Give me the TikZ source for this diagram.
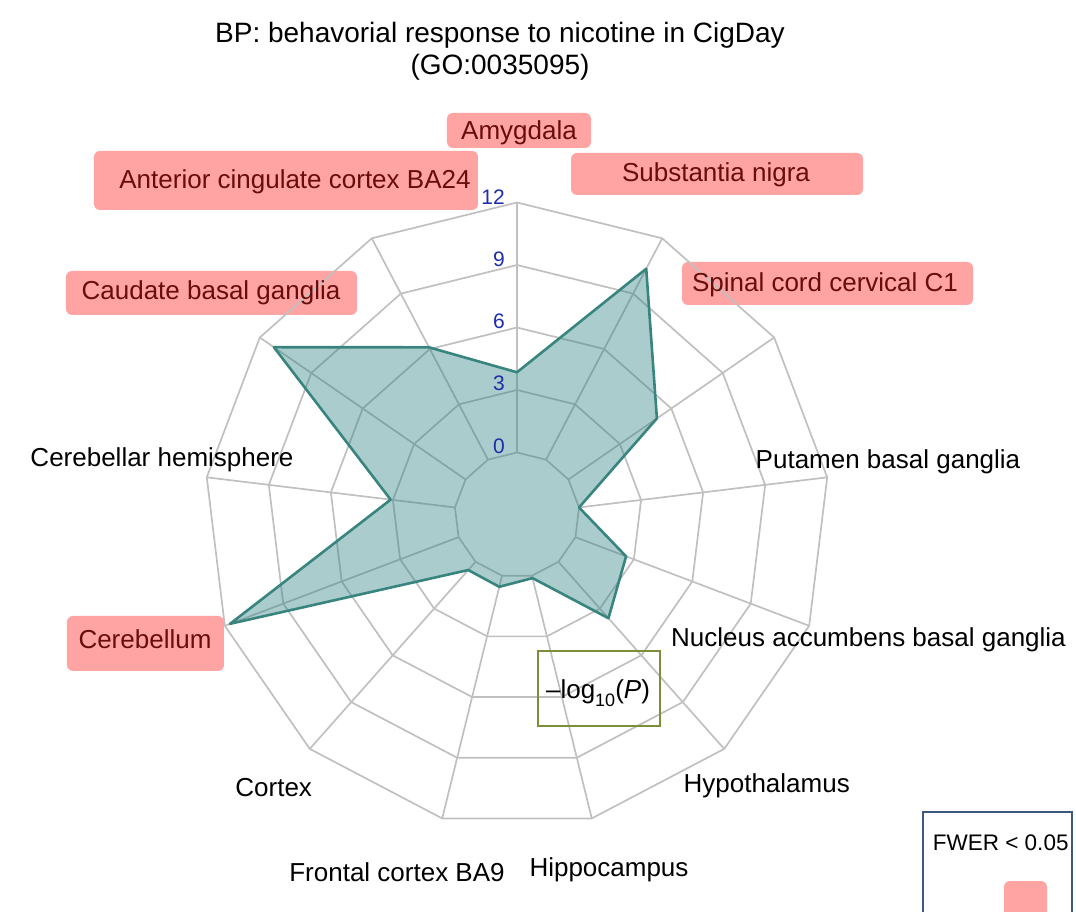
\documentclass[tikz,border=0pt]{standalone}
\usepackage{fontspec}
\setmainfont{Liberation Sans}

\definecolor{gridgray}{RGB}{192,192,192}
\definecolor{radarline}{RGB}{56,132,126}
\definecolor{radarfill}{RGB}{42,128,128}
\definecolor{tissuepink}{RGB}{255,163,163}
\definecolor{tissuered}{RGB}{105,12,12}
\definecolor{levelblue}{RGB}{30,45,170}
\definecolor{logolive}{RGB}{122,142,60}
\definecolor{legendblue}{RGB}{60,88,125}

\tikzset{
  gridline/.style={draw=gridgray, line width=1.7pt, line join=round},
  radar/.style={draw=radarline, line width=2.6pt, line join=round, fill=radarfill, fill opacity=0.4},
  tissuebox/.style={shape=rectangle, fill=tissuepink, rounded corners=6pt, inner sep=0pt},
  tissuetext/.style={anchor=base, inner sep=0pt, font=\fontsize{26}{31}\selectfont},
  hitext/.style={tissuetext, text=tissuered},
  leveltext/.style={anchor=base east, inner sep=0pt, text=levelblue, font=\fontsize{21}{25}\selectfont},
}

\begin{document}
\begin{tikzpicture}[x=1pt, y=1pt]
		\useasboundingbox (-517,-397) rectangle (559,515);
		% Boxes behind the significant tissues:
		\node[tissuebox, minimum width=144pt, minimum height=35pt] (bAmy) at (2, 384.5){};
		\node[tissuebox, minimum width=384pt, minimum height=59pt] (bAcc) at (-231, 334.5){};
		\node[tissuebox, minimum width=292pt, minimum height=42pt] (bSub) at (200, 341){};
		\node[tissuebox, minimum width=291pt, minimum height=43pt] (bSpi) at (310.5, 231.5){};
		\node[tissuebox, minimum width=291pt, minimum height=44pt] (bCau) at (-305.5, 222){};
		\node[tissuebox, minimum width=157pt, minimum height=55pt] (bCbl) at (-371.5, -128.5){};
		% Grid: rings at 0, 3, 6, 9, 12 and spokes
		\foreach \r in {62.5, 125, 187.5, 250, 312.5}
			\draw[gridline] (90:\r) \foreach \k in {1,...,12} { -- ({90-\k*360/13}:\r) } -- cycle;
		\foreach \k in {0,...,12}
			\draw[gridline] ({90-\k*360/13}:62.5) -- ({90-\k*360/13}:312.5);
		% Data: -log10(P) per tissue, clockwise from Amygdala
		\foreach \v [count=\k from 0] in {3.85, 10.35, 5.16, 0, 2.6, 3.62, 0.12, 0.55, 0.53, 11.73, 3.11, 11.18, 6.09}
			\coordinate (d\k) at ({90-\k*360/13}:{62.5+20.833*\v});
		\draw[radar] (d0) -- (d1) -- (d2) -- (d3) -- (d4) -- (d5) -- (d6) -- (d7) -- (d8) -- (d9) -- (d10) -- (d11) -- (d12) -- cycle;
		% Level labels
		\node[leveltext] (lv0) at (-12, 61){0};
		\node[leveltext] (lv3) at (-12, 124){3};
		\node[leveltext] (lv6) at (-12, 186){6};
		\node[leveltext] (lv9) at (-12, 248){9};
		\node[leveltext] (lv12) at (-12, 310){12};
		% Title
		\node[tissuetext, font=\fontsize{28}{33}\selectfont] (title) at (-17, 472){BP: behavorial response to nicotine in CigDay};
		\node[tissuetext, font=\fontsize{28}{33}\selectfont] (goid) at (-17, 440){(GO:0035095)};
		% Tissue labels
		\node[hitext] (tAmy) at (2, 375.5){Amygdala};
		\node[hitext] (tAcc) at (-222, 326){Anterior cingulate cortex BA24};
		\node[hitext] (tSub) at (199, 333.3){Substantia nigra};
		\node[hitext] (tSpi) at (308, 223.3){Spinal cord cervical C1};
		\node[hitext] (tCau) at (-306, 215){Caudate basal ganglia};
		\node[hitext] (tCbl) at (-372, -134){Cerebellum};
		\node[tissuetext] (tHem) at (-355, 48.3){Cerebellar hemisphere};
		\node[tissuetext] (tPut) at (371, 46.7){Putamen basal ganglia};
		\node[tissuetext] (tNuc) at (351.5, -131.7){Nucleus accumbens basal ganglia};
		\node[tissuetext] (tHyp) at (249.7, -277.7){Hypothalamus};
		\node[tissuetext] (tCtx) at (-243.3, -281.7){Cortex};
		\node[tissuetext] (tFro) at (-120, -366.7){Frontal cortex BA9};
		\node[tissuetext] (tHip) at (92, -361.7){Hippocampus};
		% Axis name
		\node[draw=logolive, line width=2pt, minimum width=122pt, minimum height=75pt, inner sep=0pt] (logbox) at (82, -173.5){};
		\node[tissuetext] (logtext) at (81, -184){–log\raisebox{-0.28em}{\fontsize{18}{20}\selectfont 10}(\textit{P})};
		% Legend
		\node[draw=legendblue, line width=2pt, minimum width=149pt, minimum height=143pt, inner sep=0pt] (legend) at (480.5, -368.5){};
		\node[tissuetext, font=\fontsize{22.5}{26}\selectfont] (fwer) at (483.7, -335){FWER < 0.05};
		\node[tissuebox, minimum width=43pt, minimum height=48pt] (key) at (508.5, -390){};
	\end{tikzpicture}
\end{document}
